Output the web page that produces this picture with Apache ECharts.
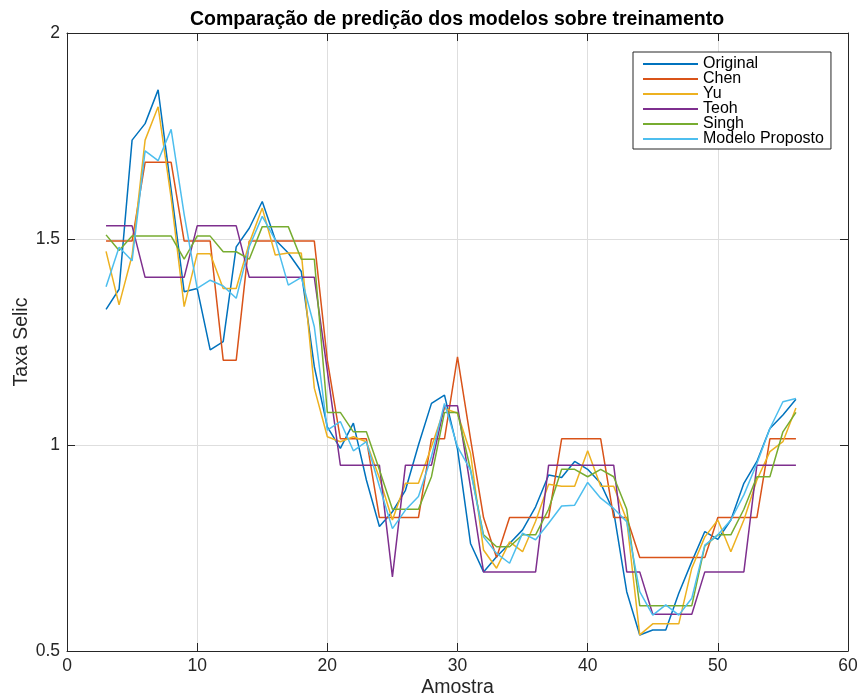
<!DOCTYPE html>
<html><head><meta charset="utf-8">
<script src="https://cdn.jsdelivr.net/npm/echarts@6/dist/echarts.min.js"></script>
<style>html,body{margin:0;padding:0;background:#fff}#c{width:863px;height:695px}</style>
</head><body><div id="c"></div>
<script>
const amostra = [3,4,5,6,7,8,9,10,11,12,13,14,15,16,17,18,19,20,21,22,23,24,25,26,27,28,29,30,31,32,33,34,35,36,37,38,39,40,41,42,43,44,45,46,47,48,49,50,51,52,53,54,55,56];

const original = [1.329,1.378,1.740,1.780,1.862,1.620,1.372,1.380,1.231,1.251,1.481,1.526,1.591,1.498,1.466,1.421,1.190,1.044,0.992,1.053,0.915,0.802,0.838,0.890,1.000,1.101,1.121,0.990,0.761,0.692,0.729,0.761,0.794,0.850,0.927,0.921,0.960,0.941,0.907,0.838,0.644,0.539,0.551,0.551,0.640,0.717,0.790,0.771,0.818,0.907,0.960,1.040,1.073,1.111];

const chen = [1.495,1.495,1.495,1.686,1.686,1.686,1.495,1.495,1.495,1.206,1.206,1.495,1.495,1.495,1.495,1.495,1.495,1.206,1.015,1.015,1.015,0.824,0.824,0.824,0.824,1.015,1.015,1.214,1.015,0.824,0.727,0.824,0.824,0.824,0.824,1.015,1.015,1.015,1.015,0.824,0.824,0.727,0.727,0.727,0.727,0.727,0.727,0.824,0.824,0.824,0.824,1.015,1.015,1.015];

const yu = [1.470,1.340,1.460,1.740,1.821,1.600,1.336,1.464,1.464,1.380,1.380,1.490,1.575,1.461,1.466,1.466,1.138,1.020,1.008,1.020,1.008,0.920,0.818,0.907,0.907,0.996,1.089,1.077,0.980,0.745,0.701,0.765,0.741,0.815,0.905,0.900,0.900,0.986,0.900,0.900,0.818,0.539,0.566,0.566,0.566,0.701,0.777,0.818,0.741,0.818,0.915,0.984,1.008,1.090];

const teoh = [1.532,1.532,1.532,1.407,1.407,1.407,1.407,1.532,1.532,1.532,1.532,1.407,1.407,1.407,1.407,1.407,1.407,1.180,0.951,0.951,0.951,0.951,0.680,0.951,0.951,0.951,1.095,1.095,0.898,0.692,0.692,0.692,0.692,0.692,0.951,0.951,0.951,0.951,0.951,0.951,0.692,0.692,0.589,0.589,0.589,0.589,0.692,0.692,0.692,0.692,0.951,0.951,0.951,0.951];

const singh = [1.510,1.472,1.507,1.507,1.507,1.507,1.451,1.507,1.507,1.469,1.469,1.451,1.530,1.530,1.530,1.451,1.451,1.079,1.079,1.032,1.032,0.940,0.844,0.844,0.844,0.923,1.079,1.079,0.940,0.782,0.753,0.753,0.782,0.782,0.844,0.941,0.941,0.923,0.941,0.923,0.844,0.610,0.610,0.610,0.610,0.610,0.755,0.782,0.782,0.844,0.923,0.923,1.032,1.079];

const proposto = [1.384,1.480,1.447,1.714,1.690,1.766,1.560,1.380,1.400,1.386,1.356,1.481,1.555,1.498,1.388,1.407,1.287,1.036,1.057,0.986,1.008,0.900,0.797,0.842,0.875,0.972,1.101,0.996,0.939,0.777,0.737,0.713,0.786,0.770,0.810,0.852,0.854,0.909,0.871,0.846,0.814,0.644,0.587,0.612,0.587,0.628,0.757,0.782,0.818,0.879,0.955,1.040,1.105,1.113];

const xTicks = [0,10,20,30,40,50,60];
const yTicks = [0.5,1,1.5,2];

const seriesDefs = [
  ['Original', original, '#0072BD'],
  ['Chen', chen, '#D95319'],
  ['Yu', yu, '#EDB120'],
  ['Teoh', teoh, '#7E2F8E'],
  ['Singh', singh, '#77AC30'],
  ['Modelo Proposto', proposto, '#4DBEEE']
];

const FONT = '"Liberation Sans", Arial, Helvetica, sans-serif';
const AX = '#262626';

const chart = echarts.init(document.getElementById('c'), null, {renderer: 'canvas'});

function axisCommon(pos, showLabel) {
  return {
    position: pos,
    axisLine: {show: true, onZero: false, lineStyle: {color: AX, width: 1}},
    axisTick: {show: true, inside: true, length: 8, lineStyle: {color: AX, width: 1}},
    axisLabel: {show: showLabel, color: '#262626', fontSize: 17.5, fontFamily: FONT},
    splitLine: {show: showLabel, lineStyle: {color: '#dedede', width: 1}}
  };
}

const option = {
  animation: false,
  backgroundColor: '#fff',
  graphic: [{
    type: 'text', x: 457, y: 10,
    style: {text: 'Comparação de predição dos modelos sobre treinamento',
      font: 'bold 19.5px ' + FONT, fill: '#000', align: 'center', verticalAlign: 'top',
      textAlign: 'center', textVerticalAlign: 'top'}
  }],
  grid: {left: 67, right: 15, top: 33, bottom: 44, containLabel: false, outerBoundsMode: 'none'},
  legend: {
    orient: 'vertical', left: 633, top: 52,
    icon: 'rect', itemWidth: 55, itemHeight: 2, itemGap: -1,
    padding: [4, 7, 2, 10],
    borderColor: AX, borderWidth: 1, backgroundColor: '#fff',
    textStyle: {fontSize: 16, color: '#000', fontFamily: FONT},
    data: seriesDefs.map(d => d[0])
  },
  xAxis: [
    Object.assign({type: 'value', min: xTicks[0], max: xTicks[xTicks.length-1], interval: 10,
      name: 'Amostra', nameLocation: 'middle', nameGap: 27, nameMoveOverlap: false,
      nameTextStyle: {fontSize: 19.5, color: '#262626', fontFamily: FONT}}, axisCommon('bottom', true),
      {axisLabel: {show: true, color: '#262626', fontSize: 17.5, fontFamily: FONT, margin: 6}}),
    Object.assign({type: 'value', min: xTicks[0], max: xTicks[xTicks.length-1], interval: 10}, axisCommon('top', false))
  ],
  yAxis: [
    Object.assign({type: 'value', min: yTicks[0], max: yTicks[yTicks.length-1], interval: 0.5,
      name: 'Taxa Selic', nameLocation: 'middle', nameGap: 35, nameRotate: 90, nameMoveOverlap: false,
      nameTextStyle: {fontSize: 19.5, color: '#262626', fontFamily: FONT}}, axisCommon('left', true),
      {axisLabel: {show: true, color: '#262626', fontSize: 17.5, fontFamily: FONT, margin: 7}}),
    Object.assign({type: 'value', min: yTicks[0], max: yTicks[yTicks.length-1], interval: 0.5}, axisCommon('right', false))
  ],
  series: seriesDefs.map(d => ({
    name: d[0], type: 'line', xAxisIndex: 0, yAxisIndex: 0,
    data: amostra.map((x, i) => [x, d[1][i]]),
    symbol: 'none', showSymbol: false,
    lineStyle: {width: 1.5, color: d[2]}, itemStyle: {color: d[2]},
    emphasis: {disabled: true}
  }))
};
chart.setOption(option);
</script>
</body></html>
